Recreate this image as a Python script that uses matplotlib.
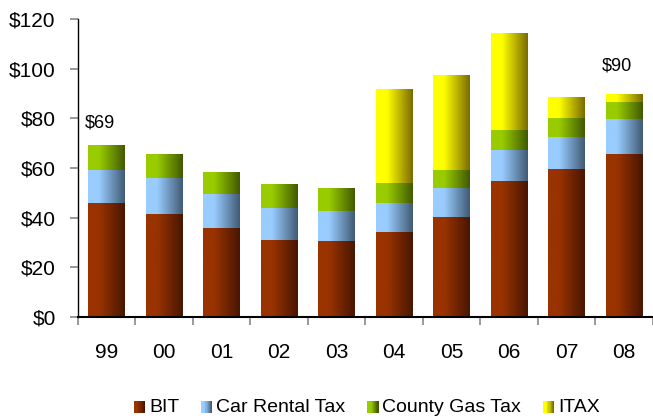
import numpy as np
import matplotlib
matplotlib.use("Agg")
import matplotlib.pyplot as plt
from matplotlib.colors import LinearSegmentedColormap
from matplotlib.patches import Rectangle
from matplotlib.legend_handler import HandlerBase

plt.rcParams['font.family'] = ['Liberation Sans', 'DejaVu Sans']

years = ["99", "00", "01", "02", "03", "04", "05", "06", "07", "08"]
bit = [45.9, 41.5, 35.8, 31.0, 30.6, 34.2, 40.3, 54.8, 59.6, 65.6]
car_rental = [13.3, 14.5, 13.7, 12.9, 12.1, 11.7, 11.7, 12.5, 12.9, 14.1]
gas_tax = [10.1, 9.6, 8.9, 9.7, 9.3, 8.1, 7.2, 8.0, 7.6, 6.9]
itax = [0, 0, 0, 0, 0, 37.8, 38.3, 39.1, 8.5, 3.2]
series_names = ["BIT", "Car Rental Tax", "County Gas Tax", "ITAX"]
total_labels = {0: "$69", 9: "$90"}
yticks = [0, 20, 40, 60, 80, 100, 120]

colors = [("#993300", "#481600"), ("#99ccff", "#405a74"),
          ("#99cc00", "#415900"), ("#ffff00", "#7a6a00")]

def make_cmap(c1, c2):
    return LinearSegmentedColormap.from_list("g", [(0, c1), (0.3, c1), (1, c2)])

cmaps = [make_cmap(*c) for c in colors]
grad = np.linspace(0, 1, 256).reshape(1, -1)

fig = plt.figure(figsize=(6.53, 4.19), dpi=100)
ax = fig.add_axes([0.1194, 0.2434, 0.8806, 0.7113])
x = np.arange(len(years))
width = 0.64
bottom = np.zeros(len(years))
for vals, cmap, name in zip([bit, car_rental, gas_tax, itax], cmaps, series_names):
    vals = np.array(vals, dtype=float)
    bars = ax.bar(x, vals, width, bottom=bottom, color='none', edgecolor='none', label=name)
    for b, v in zip(bars, vals):
        if v <= 0:
            continue
        x0, y0 = b.get_x(), b.get_y()
        im = ax.imshow(grad, cmap=cmap, aspect='auto',
                       extent=[x0, x0 + b.get_width(), y0, y0 + b.get_height()],
                       zorder=2, interpolation='bicubic')
        im.set_clip_path(b)
    bottom += vals

for i, txt in total_labels.items():
    ax.annotate(txt, (x[i], bottom[i]), xytext=(-5, 10 if i == 0 else 14),
                textcoords='offset points', ha='center', va='bottom', fontsize=13)

ax.set_xlim(-0.5, len(years) - 0.5)
ax.set_ylim(0, 120)
ax.set_yticks(yticks)
ax.set_yticklabels([f"${v}" for v in yticks], fontsize=15)
ax.set_xticks(x)
ax.set_xticklabels(years, fontsize=15)
ax.set_xticks(np.arange(len(years) + 1) - 0.5, minor=True)
ax.tick_params(axis='x', which='major', length=0, pad=19)
ax.tick_params(axis='x', which='minor', length=6, color='#888888', width=1.2)
ax.tick_params(axis='y', length=6, color='#888888', width=1.2, pad=10)
for s in ['top', 'right']:
    ax.spines[s].set_visible(False)
ax.spines['left'].set_linewidth(1.0)
ax.spines['bottom'].set_linewidth(1.5)

class GradHandler(HandlerBase):
    def __init__(self, cmap):
        super().__init__()
        self.cmap = cmap
    def create_artists(self, legend, orig_handle, xdescent, ydescent, width, height, fontsize, trans):
        n = 10
        size = height * 0.85
        x0 = -xdescent + width - size
        arts = []
        for k in range(n):
            r = Rectangle((x0 + k * size / n, -ydescent + (height - size) / 2 - 1), size / n + 0.05, size,
                          facecolor=self.cmap(k / (n - 1)), edgecolor='none', transform=trans)
            arts.append(r)
        return arts

handles = [Rectangle((0, 0), 1, 1) for _ in series_names]
fig.legend(handles, series_names, loc='lower center', bbox_to_anchor=(0.56, -0.035),
           ncol=4, frameon=False, fontsize=14, handlelength=0.7, handletextpad=0.2,
           columnspacing=1.0,
           handler_map={h: GradHandler(c) for h, c in zip(handles, cmaps)})

fig.savefig("out.png", dpi=100)
